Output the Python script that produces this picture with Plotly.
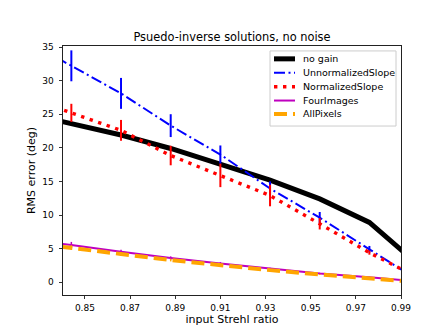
import plotly.graph_objects as go

# input Strehl ratio of each run (first and last fall just outside the axis limits)
strehl = [0.822, 0.844, 0.866, 0.888, 0.910, 0.932, 0.954, 0.976, 0.998]

no_gain = [25.3, 23.6, 21.9, 19.9, 17.5, 15.2, 12.4, 8.9, 2.5]

unnorm_slope = [36.3, 32.2, 28.1, 23.3, 19.0, 13.95, 9.6, 4.9, 0.2]
unnorm_err = [2.3, 2.3, 2.3, 1.7, 1.35, 1.05, 0.85, 0.5, 0.3]

norm_slope = [27.8, 25.2, 22.6, 18.85, 15.9, 12.9, 8.7, 4.4, 0.6]
norm_err = [1.4, 1.35, 1.55, 1.45, 1.75, 1.6, 0.85, 0.3, 0.2]

four_images = [6.3, 5.55, 4.55, 3.6, 2.8, 2.0, 1.3, 0.75, 0.1]
four_err = [0.5, 0.45, 0.3, 0.25, 0.2, 0.15, 0.1, 0.05, 0.05]

all_pixels = [6.0, 5.15, 4.2, 3.3, 2.5, 1.8, 1.15, 0.55, 0.0]
all_err = [0.4, 0.35, 0.25, 0.2, 0.15, 0.1, 0.08, 0.05, 0.03]

x_ticks = [0.85, 0.87, 0.89, 0.91, 0.93, 0.95, 0.97, 0.99]
y_ticks = [0, 5, 10, 15, 20, 25, 30, 35]

names = ["no gain", "UnnormalizedSlope", "NormalizedSlope", "FourImages", "AllPixels"]
values = [no_gain, unnorm_slope, norm_slope, four_images, all_pixels]
errors = [None, unnorm_err, norm_err, four_err, all_err]

# line styles (matplotlib-like k-, b-., r:, m-, orange --)
colors = ["black", "#0000ff", "#ff0000", "#bf00bf", "#ffa500"]
widths = [5, 2, 3.4, 2, 4]
dashes = ["solid", "11px,3.5px,2px,3.5px", "3.4px,5.6px", "solid", "13px,6px"]
err_widths = [0, 2, 2, 1.5, 1.5]

font = "DejaVu Sans"

# plot area in pixels: left 55, right 393, top 38, bottom 290
PL, PR, PT, PB = 55, 393, 38, 290


def px(x, y):
    return (x - PL) / (PR - PL), (PB - y) / (PB - PT)


fig = go.Figure()

for name, yv, err, c, w, d, ew in zip(names, values, errors, colors, widths, dashes, err_widths):
    tr = go.Scatter(x=strehl, y=yv, mode="lines", name=name, showlegend=False,
                    line=dict(color=c, width=w, dash=d))
    if err is not None:
        tr.error_y = dict(type="data", array=err, color=c, thickness=ew, width=0)
    fig.add_trace(tr)

# legend drawn by hand to get matplotlib's compact spacing
x0, y0 = px(262, 43)
x1, y1 = px(388, 119)
fig.add_shape(type="rect", xref="paper", yref="paper", x0=x0, y0=y1, x1=x1, y1=y0,
              line=dict(color="#cccccc", width=1), fillcolor="rgba(255,255,255,0.8)")
row_y = [51, 65, 79.2, 93.2, 106.7]
for name, c, w, d, ry in zip(names, colors, widths, dashes, row_y):
    lx0, ly = px(266, ry)
    lx1, _ = px(287, ry)
    fig.add_shape(type="line", xref="paper", yref="paper", x0=lx0, x1=lx1, y0=ly, y1=ly,
                  line=dict(color=c, width=w, dash=d))
    tx, _ = px(293, ry)
    fig.add_annotation(x=tx, y=ly, xref="paper", yref="paper", text=name, showarrow=False,
                       xanchor="left", yanchor="middle", font=dict(size=9.5, color="black"))

fig.update_layout(
    width=437, height=327,
    margin=dict(l=PL, r=437 - PR, t=PT, b=327 - PB),
    paper_bgcolor="white", plot_bgcolor="white",
    font=dict(family=font, size=10, color="black"),
    title=dict(text="Psuedo-inverse solutions, no noise", x=0.5, xref="paper",
               y=1 - 29 / 327, yref="container", yanchor="middle",
               font=dict(size=11.4, color="black")),
    showlegend=False,
)

fig.update_xaxes(range=[0.8403, 0.99], tickvals=x_ticks, tickformat=".2f",
                 ticks="outside", ticklen=3, tickcolor="#333333", ticklabelstandoff=1,
                 showgrid=False, zeroline=False,
                 showline=True, linecolor="#222222", linewidth=1, mirror=True,
                 tickfont=dict(size=9),
                 title=dict(text="input Strehl ratio", font=dict(size=11), standoff=3))
fig.update_yaxes(range=[-1.9, 35.15], tickvals=y_ticks,
                 ticks="outside", ticklen=3.5, tickcolor="#333333", ticklabelstandoff=3,
                 showgrid=False, zeroline=False,
                 showline=True, linecolor="#222222", linewidth=1, mirror=True,
                 tickfont=dict(size=9),
                 title=dict(text="RMS error (deg)", font=dict(size=11), standoff=4))

fig.write_html("out.html")
